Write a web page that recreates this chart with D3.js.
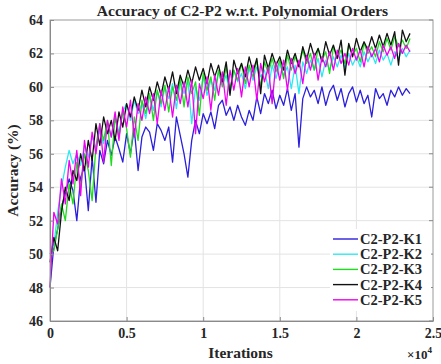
<!DOCTYPE html>
<html lang="en">
<head>
<meta charset="UTF-8">
<title>Accuracy of C2-P2 w.r.t. Polynomial Orders</title>
<script src="https://d3js.org/d3.v7.min.js"></script>
<style>
  body { margin: 0; background: #ffffff; }
  svg { display: block; }
  text { font-family: "Liberation Serif", "DejaVu Serif", serif; font-weight: bold; fill: #262626; }
</style>
</head>
<body>
<div id="vis"></div>
<script>
// iterations sampled every 250 steps
const iterations = d3.range(0, 23750, 250);

const seriesNames = ["C2-P2-K1", "C2-P2-K2", "C2-P2-K3", "C2-P2-K4", "C2-P2-K5"];
const seriesColors = ["#2b1fdc", "#2ee8f0", "#1fdc1f", "#111111", "#f000f0"];

const accK1 = [48.0,50.5,51.5,52.8,53.6,54.5,53.8,52.0,54.6,55.2,52.6,55.8,53.1,56.2,55.4,56.8,55.9,57.0,56.3,55.5,
  57.2,56.0,57.5,55.0,57.0,57.6,57.3,56.2,57.8,57.4,56.8,57.6,55.5,58.2,57.1,56.0,54.6,56.8,58.0,57.2,
  58.4,57.8,58.5,57.5,58.9,59.2,58.3,58.8,58.0,58.9,58.2,57.7,58.6,58.0,59.4,58.4,59.6,59.0,59.8,58.7,
  59.5,58.9,59.9,58.6,59.6,56.4,59.3,60.0,59.4,59.8,59.0,60.0,58.9,59.7,60.1,59.2,59.9,58.8,59.6,60.0,
  59.1,59.8,59.0,59.5,58.2,59.9,59.3,59.6,58.9,59.8,59.4,60.0,59.5,59.9,59.6];
const accK2 = [50.0,50.5,52.5,54.0,55.2,56.2,55.4,56.0,55.3,56.5,55.8,57.0,56.3,57.4,56.6,57.8,57.0,58.2,57.3,58.5,
  59.0,58.0,59.2,58.4,59.0,58.1,59.5,58.6,59.7,58.8,60.0,59.3,60.2,58.7,60.3,59.6,60.4,57.8,60.0,59.2,
  60.6,59.5,60.4,59.8,60.9,60.1,60.7,59.6,61.0,60.3,60.8,59.9,61.1,60.4,61.2,60.6,61.0,59.9,61.3,60.5,
  61.4,60.7,61.2,59.9,61.3,59.6,61.5,60.8,61.6,61.0,61.7,60.6,61.6,61.0,61.8,61.2,61.9,61.1,62.0,61.3,
  61.8,61.2,62.1,61.5,62.0,61.4,62.2,61.6,62.0,61.3,62.1,61.7,62.3,61.8,62.2];
const accK3 = [50.0,50.2,51.5,53.0,52.0,54.2,53.0,55.5,54.0,56.0,55.0,53.2,56.5,57.8,56.8,58.0,55.3,58.2,57.0,58.6,
  57.5,55.8,58.2,56.8,59.2,58.4,59.6,58.0,59.8,59.0,60.1,58.5,60.0,59.2,60.5,58.8,60.6,59.6,60.3,58.3,
  60.8,59.8,60.6,59.2,61.0,60.0,61.2,59.8,61.0,60.4,61.4,60.2,61.3,60.6,61.6,60.0,61.5,60.8,61.7,60.9,
  61.6,60.5,61.9,61.0,61.8,61.2,62.2,61.4,62.0,61.0,62.3,61.6,62.1,60.8,62.4,61.7,62.2,61.4,62.5,61.9,
  62.3,61.5,62.6,62.0,62.4,61.8,62.7,62.1,62.9,62.2,63.0,62.4,62.8,62.3,62.9];
const accK4 = [49.5,51.0,50.2,52.5,54.0,53.2,55.0,54.4,56.0,55.0,56.8,55.6,57.8,56.5,58.2,57.2,58.0,56.8,58.5,57.6,
  59.0,58.2,59.4,58.6,59.8,58.8,60.0,59.2,60.3,59.5,60.6,59.8,60.9,59.6,60.7,60.0,61.0,60.2,61.2,60.4,
  61.1,60.2,61.4,60.6,61.3,60.3,61.5,59.5,61.6,60.8,61.4,60.6,61.8,60.9,61.7,59.6,61.9,61.1,62.0,61.3,
  61.8,61.0,62.2,61.4,62.0,61.2,62.4,61.6,62.6,61.8,62.3,61.5,62.7,61.9,62.5,61.7,62.8,60.7,62.6,61.8,
  62.9,62.1,62.7,62.2,63.0,62.3,63.1,62.4,63.2,62.5,63.3,61.3,63.4,62.7,63.2];
const accK5 = [48.0,52.5,51.8,54.5,53.0,55.6,54.2,56.2,53.5,56.8,55.2,57.3,56.0,57.8,55.5,58.0,57.0,58.5,56.8,58.8,
  57.6,59.2,57.0,59.0,58.0,59.4,58.4,59.6,57.8,59.8,58.6,60.0,58.2,60.1,59.0,60.3,58.8,60.4,57.2,60.2,
  59.3,60.6,58.6,60.7,59.5,60.9,58.9,61.0,59.8,61.1,59.4,61.2,60.0,61.3,59.2,61.4,60.3,61.2,59.0,61.5,
  60.4,61.6,59.8,61.7,60.8,61.6,60.2,61.9,61.0,62.0,60.4,61.8,61.2,62.1,61.0,62.2,61.4,62.0,61.3,62.3,
  61.6,62.2,61.2,62.4,61.8,62.3,61.5,62.5,61.9,62.4,61.7,62.6,62.0,62.5,62.1];

const allSeries = [accK1, accK2, accK3, accK4, accK5];

const xTicks = [0, 5000, 10000, 15000, 20000, 25000];
const xTickLabels = ["0", "0.5", "1", "1.5", "2", "2.5"];
const yTicks = [46, 48, 50, 52, 54, 56, 58, 60, 62, 64];

const W = 441, H = 364;
const plotL = 50, plotR = 433, plotT = 20, plotB = 321;

const svg = d3.select("#vis").append("svg")
    .attr("width", W)
    .attr("height", H);

const x = d3.scaleLinear().domain([0, 25000]).range([plotL, plotR]);
const y = d3.scaleLinear().domain([46, 64]).range([plotB, plotT]);

// grid
svg.append("g").selectAll("line")
    .data(xTicks.slice(1, -1)).enter().append("line")
    .attr("x1", d => x(d)).attr("x2", d => x(d))
    .attr("y1", plotT).attr("y2", plotB)
    .attr("stroke", "#e3e3e3").attr("stroke-width", 1);
svg.append("g").selectAll("line")
    .data(yTicks.slice(1, -1)).enter().append("line")
    .attr("x1", plotL).attr("x2", plotR)
    .attr("y1", d => y(d)).attr("y2", d => y(d))
    .attr("stroke", "#e3e3e3").attr("stroke-width", 1);

// lines
const line = d3.line()
    .x((d, i) => x(iterations[i]))
    .y(d => y(d));

allSeries.forEach((vals, k) => {
    svg.append("path")
        .datum(vals)
        .attr("fill", "none")
        .attr("stroke", seriesColors[k])
        .attr("stroke-width", 1.3)
        .attr("stroke-linejoin", "round")
        .attr("d", line);
});

// axes box
svg.append("rect")
    .attr("x", plotL).attr("y", plotT)
    .attr("width", plotR - plotL).attr("height", plotB - plotT)
    .attr("fill", "none").attr("stroke", "#9a9a9a").attr("stroke-width", 1);

const xAxis = d3.axisBottom(x).tickValues(xTicks)
    .tickFormat((d, i) => xTickLabels[i])
    .tickSizeInner(-4).tickSizeOuter(0).tickPadding(7);
const gx = svg.append("g").attr("transform", `translate(0,${plotB})`).call(xAxis);
gx.select(".domain").attr("stroke", "#8a8a8a");
gx.selectAll(".tick line").attr("stroke", "#8a8a8a");
gx.selectAll("text").attr("font-size", 14).attr("font-family", "Liberation Serif").attr("font-weight", "bold").attr("fill", "#262626");

const yAxis = d3.axisLeft(y).tickValues(yTicks)
    .tickSizeInner(-4).tickSizeOuter(0).tickPadding(7);
const gy = svg.append("g").attr("transform", `translate(${plotL},0)`).call(yAxis);
gy.select(".domain").attr("stroke", "#8a8a8a");
gy.selectAll(".tick line").attr("stroke", "#8a8a8a");
gy.selectAll("text").attr("font-size", 14).attr("font-family", "Liberation Serif").attr("font-weight", "bold").attr("fill", "#262626");

// right side ticks
svg.append("g").selectAll("line")
    .data(yTicks).enter().append("line")
    .attr("x1", plotR - 4).attr("x2", plotR)
    .attr("y1", d => y(d)).attr("y2", d => y(d))
    .attr("stroke", "#8a8a8a");

// title and labels
svg.append("text")
    .attr("x", (plotL + plotR) / 2 + 1).attr("y", 16)
    .attr("text-anchor", "middle").attr("font-size", 15.5)
    .text("Accuracy of C2-P2 w.r.t. Polynomial Orders");

svg.append("text")
    .attr("x", (plotL + plotR) / 2 - 1).attr("y", 358)
    .attr("text-anchor", "middle").attr("font-size", 15.5)
    .text("Iterations");

svg.append("text")
    .attr("transform", `translate(18,${(plotT + plotB) / 2}) rotate(-90)`)
    .attr("text-anchor", "middle").attr("font-size", 15.5)
    .text("Accuracy (%)");

const expo = svg.append("text")
    .attr("x", 407).attr("y", 359)
    .attr("font-size", 13).attr("font-weight", "normal");
expo.append("tspan").text("\u00d710");
expo.append("tspan").attr("dy", -6).attr("font-size", 9).text("4");

// legend
const lg = svg.append("g");
lg.append("rect")
    .attr("x", 330).attr("y", 229)
    .attr("width", 101).attr("height", 82)
    .attr("fill", "#ffffff");
seriesNames.forEach((name, k) => {
    const ly = 239 + k * 15.2;
    lg.append("line")
        .attr("x1", 333).attr("x2", 358)
        .attr("y1", ly).attr("y2", ly)
        .attr("stroke", seriesColors[k]).attr("stroke-width", 1.4);
    lg.append("text")
        .attr("x", 360).attr("y", ly + 5)
        .attr("font-size", 14.5)
        .text(name);
});
</script>
</body>
</html>
